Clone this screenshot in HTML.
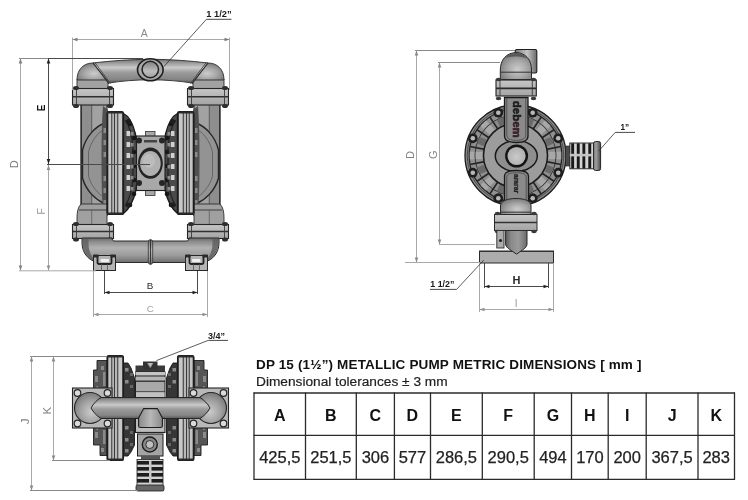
<!DOCTYPE html>
<html><head><meta charset="utf-8"><style>
html,body{margin:0;padding:0;background:#fff;}
body{width:748px;height:500px;overflow:hidden;position:relative;font-family:"Liberation Sans",sans-serif;}
.ttl,.sub,svg{will-change:transform;}
svg{position:absolute;left:0;top:0;}
.tl{stroke:#2b2b2b;stroke-width:1.3;}
.th{font:bold 16px "Liberation Sans",sans-serif;fill:#111;text-anchor:middle;}
.td{font:16.5px "Liberation Sans",sans-serif;fill:#222;text-anchor:middle;stroke:#222;stroke-width:0.25px;}
.ttl{position:absolute;left:256px;top:356.5px;font:bold 13.5px "Liberation Sans",sans-serif;letter-spacing:0.15px;color:#111;white-space:nowrap;}
.sub{position:absolute;left:255.5px;top:373.5px;font:13.7px "Liberation Sans",sans-serif;color:#222;white-space:nowrap;-webkit-text-stroke:0.2px #222;}
</style></head><body>
<svg width="748" height="500" viewBox="0 0 748 500">
<defs>
<linearGradient id="gPipeH" x1="0" y1="0" x2="0" y2="1">
 <stop offset="0" stop-color="#6a6a6a"/><stop offset="0.1" stop-color="#8e8e8e"/><stop offset="0.35" stop-color="#cacaca"/>
 <stop offset="0.55" stop-color="#9c9c9c"/><stop offset="0.85" stop-color="#848484"/><stop offset="1" stop-color="#5a5a5a"/>
</linearGradient>
<linearGradient id="gPipeB" x1="0" y1="0" x2="0" y2="1">
 <stop offset="0" stop-color="#6a6a6a"/><stop offset="0.15" stop-color="#8c8c8c"/><stop offset="0.4" stop-color="#b2b2b2"/>
 <stop offset="0.7" stop-color="#9c9c9c"/><stop offset="1" stop-color="#6e6e6e"/>
</linearGradient>
<linearGradient id="gColV" x1="0" y1="0" x2="1" y2="0">
 <stop offset="0" stop-color="#5a5a5a"/><stop offset="0.25" stop-color="#8a8a8a"/>
 <stop offset="0.6" stop-color="#9a9a9a"/><stop offset="1" stop-color="#6a6a6a"/>
</linearGradient>
<radialGradient id="gDome" cx="0.55" cy="0.62" r="0.62">
 <stop offset="0" stop-color="#cccccc"/><stop offset="0.55" stop-color="#a4a4a4"/><stop offset="1" stop-color="#7a7a7a"/>
</radialGradient>
<radialGradient id="gElbB" cx="0.3" cy="0.2" r="0.9">
 <stop offset="0" stop-color="#b0b0b0"/><stop offset="0.5" stop-color="#8e8e8e"/><stop offset="1" stop-color="#5e5e5e"/>
</radialGradient>
<linearGradient id="gFlange" x1="0" y1="0" x2="0" y2="1">
 <stop offset="0" stop-color="#c6c6c6"/><stop offset="1" stop-color="#a4a4a4"/>
</linearGradient>
<linearGradient id="gOutlet" x1="0" y1="0" x2="1" y2="0">
 <stop offset="0" stop-color="#7a7a7a"/><stop offset="0.55" stop-color="#c4c4c4"/><stop offset="1" stop-color="#6a6a6a"/>
</linearGradient>
<linearGradient id="gPort2" x1="0" y1="0" x2="0" y2="1">
 <stop offset="0" stop-color="#808080"/><stop offset="0.6" stop-color="#bdbdbd"/><stop offset="1" stop-color="#a0a0a0"/>
</linearGradient>
<radialGradient id="gHole" cx="0.5" cy="0.55" r="0.6">
 <stop offset="0" stop-color="#cacaca"/><stop offset="1" stop-color="#a8a8a8"/>
</radialGradient>
<linearGradient id="gCap" x1="0" y1="0" x2="1" y2="0">
 <stop offset="0" stop-color="#8a8a8a"/><stop offset="0.4" stop-color="#9a9a9a"/><stop offset="1" stop-color="#4a4a4a"/>
</linearGradient>
<linearGradient id="gFun" x1="0" y1="0" x2="1" y2="0">
 <stop offset="0" stop-color="#8a8a8a"/><stop offset="0.5" stop-color="#b8b8b8"/><stop offset="1" stop-color="#8a8a8a"/>
</linearGradient>
<radialGradient id="gPort" cx="0.45" cy="0.45" r="0.6">
 <stop offset="0" stop-color="#c8c8c8"/><stop offset="1" stop-color="#8a8a8a"/>
</radialGradient>
</defs>
<rect x="81" y="104" width="26" height="108" fill="#a2a2a2" stroke="#2a2a2a" stroke-width="1.1"/>
<rect x="81.5" y="104" width="10" height="108" fill="#8e8e8e"/>
<line x1="91.7" y1="104" x2="91.7" y2="212" stroke="#4a4a4a" stroke-width="0.8"/>
<line x1="81.3" y1="104" x2="81.3" y2="212" stroke="#2a2a2a" stroke-width="1.2"/>
<path d="M105,123 C96,126 86,136 82.5,150 L82.5,178 C86,191 96,200 105,204 Z" fill="#939393" stroke="#262626" stroke-width="1.4"/>
<path d="M105,129 C98,132 91,141 88.5,152 L88.5,176 C91,186 98,194 105,198" fill="none" stroke="#5a5a5a" stroke-width="0.8"/>
<path d="M103,106 L108,110 L108,216 L103,214 C101,190 101,130 103,106 Z" fill="#505050"/>
<rect x="103.5" y="128" width="2.5" height="5" fill="#8a8a8a"/>
<rect x="103.5" y="140" width="2.5" height="5" fill="#8a8a8a"/>
<rect x="103.5" y="152" width="2.5" height="5" fill="#8a8a8a"/>
<rect x="103.5" y="176" width="2.5" height="5" fill="#8a8a8a"/>
<rect x="103.5" y="188" width="2.5" height="5" fill="#8a8a8a"/>
<rect x="103.5" y="200" width="2.5" height="5" fill="#8a8a8a"/>
<rect x="77" y="79.5" width="31" height="9" fill="#a2a2a2" stroke="#2e2e2e" stroke-width="0.9"/>
<path d="M77,80 C77,69 84,63 93,63 L97,63.5 C103,67 107,73 108,80 Z" fill="url(#gDome)" stroke="#2e2e2e" stroke-width="0.9"/>
<rect x="72.5" y="88.5" width="41" height="16.5" fill="url(#gFlange)" stroke="#262626" stroke-width="1.1"/>
<line x1="72.5" y1="96.75" x2="113.5" y2="96.75" stroke="#303030" stroke-width="1.6"/>
<line x1="76.5" y1="88.5" x2="76.5" y2="105.0" stroke="#3a3a3a" stroke-width="0.9"/>
<line x1="109.5" y1="88.5" x2="109.5" y2="105.0" stroke="#3a3a3a" stroke-width="0.9"/>
<ellipse cx="76.0" cy="88.0" rx="3" ry="2" fill="#2e2e2e"/>
<ellipse cx="110.0" cy="88.0" rx="3" ry="2" fill="#2e2e2e"/>
<ellipse cx="76.0" cy="106.0" rx="3" ry="2" fill="#2e2e2e"/>
<ellipse cx="110.0" cy="106.0" rx="3" ry="2" fill="#2e2e2e"/>
<path d="M81,204 C78,207 77,212 77,218 L77,224.5 L107,224.5 L107,204 Z" fill="#a0a0a0" stroke="#2e2e2e" stroke-width="0.9"/>
<line x1="79" y1="210" x2="107" y2="210" stroke="#333" stroke-width="0.9"/>
<line x1="91.7" y1="210" x2="91.7" y2="224" stroke="#555" stroke-width="0.7"/>
<rect x="72.5" y="224.5" width="41" height="14" fill="url(#gFlange)" stroke="#262626" stroke-width="1.1"/>
<line x1="72.5" y1="231.5" x2="113.5" y2="231.5" stroke="#303030" stroke-width="1.6"/>
<line x1="76.5" y1="224.5" x2="76.5" y2="238.5" stroke="#3a3a3a" stroke-width="0.9"/>
<line x1="109.5" y1="224.5" x2="109.5" y2="238.5" stroke="#3a3a3a" stroke-width="0.9"/>
<ellipse cx="76.0" cy="224.0" rx="3" ry="2" fill="#2e2e2e"/>
<ellipse cx="110.0" cy="224.0" rx="3" ry="2" fill="#2e2e2e"/>
<ellipse cx="76.0" cy="239.5" rx="3" ry="2" fill="#2e2e2e"/>
<ellipse cx="110.0" cy="239.5" rx="3" ry="2" fill="#2e2e2e"/>
<rect x="107" y="111.5" width="16.5" height="103" rx="2" fill="#a0a0a0" stroke="#1a1a1a" stroke-width="1.1"/>
<rect x="107" y="113" width="1.5" height="100" fill="#1e1e1e"/>
<rect x="108.5" y="113" width="2.5" height="100" fill="#c4c4c4"/>
<rect x="111" y="113" width="1.5" height="100" fill="#5a5a5a"/>
<rect x="112.5" y="113" width="1.5" height="100" fill="#b4b4b4"/>
<rect x="114" y="113" width="1" height="100" fill="#3a3a3a"/>
<rect x="115" y="113" width="2" height="100" fill="#b8b8b8"/>
<rect x="117" y="113" width="1.5" height="100" fill="#555"/>
<rect x="118.5" y="113" width="3.8" height="100" fill="#c8c8c8"/>
<rect x="122.3" y="113" width="1.2" height="100" fill="#1e1e1e"/>
<rect x="107" y="111.5" width="16.5" height="2" rx="1" fill="#2a2a2a"/><rect x="107" y="212.5" width="16.5" height="2" rx="1" fill="#2a2a2a"/>
<path d="M123.5,113.5 C129,116 133,124 135.5,134 C137.5,146 138,175 136,190 C133.5,201 129,209 123.5,213.5 Z" fill="#4a4a4a" stroke="#1a1a1a" stroke-width="1.3"/>
<circle cx="130" cy="124" r="2.3" fill="#161616"/>
<circle cx="134" cy="138" r="2.3" fill="#161616"/>
<circle cx="134" cy="152" r="2.3" fill="#161616"/>
<circle cx="134" cy="166" r="2.3" fill="#161616"/>
<circle cx="134" cy="180" r="2.3" fill="#161616"/>
<circle cx="134" cy="194" r="2.3" fill="#161616"/>
<circle cx="130" cy="205" r="2.3" fill="#161616"/>
<path d="M125,120 C129,125 132,135 133,148 L133,178 C132,192 129,200 125,206" fill="none" stroke="#222" stroke-width="1.2"/>
<rect x="126.5" y="131" width="3.5" height="5" fill="#d0d0d0"/>
<rect x="130.5" y="132" width="3" height="3.5" fill="#8a8a8a"/>
<rect x="126.5" y="142" width="3.5" height="5" fill="#d0d0d0"/>
<rect x="130.5" y="143" width="3" height="3.5" fill="#8a8a8a"/>
<rect x="126.5" y="153" width="3.5" height="5" fill="#d0d0d0"/>
<rect x="130.5" y="154" width="3" height="3.5" fill="#8a8a8a"/>
<rect x="126.5" y="164" width="3.5" height="5" fill="#d0d0d0"/>
<rect x="130.5" y="165" width="3" height="3.5" fill="#8a8a8a"/>
<rect x="126.5" y="175" width="3.5" height="5" fill="#d0d0d0"/>
<rect x="130.5" y="176" width="3" height="3.5" fill="#8a8a8a"/>
<rect x="126.5" y="186" width="3.5" height="5" fill="#d0d0d0"/>
<rect x="130.5" y="187" width="3" height="3.5" fill="#8a8a8a"/>
<circle cx="128.5" cy="121.5" r="2.6" fill="#1e1e1e"/><circle cx="128.5" cy="205" r="2.6" fill="#1e1e1e"/>
<g transform="translate(301,0) scale(-1,1)">
<rect x="81" y="104" width="26" height="108" fill="#a2a2a2" stroke="#2a2a2a" stroke-width="1.1"/>
<rect x="81.5" y="104" width="10" height="108" fill="#8e8e8e"/>
<line x1="91.7" y1="104" x2="91.7" y2="212" stroke="#4a4a4a" stroke-width="0.8"/>
<line x1="81.3" y1="104" x2="81.3" y2="212" stroke="#2a2a2a" stroke-width="1.2"/>
<path d="M105,123 C96,126 86,136 82.5,150 L82.5,178 C86,191 96,200 105,204 Z" fill="#939393" stroke="#262626" stroke-width="1.4"/>
<path d="M105,129 C98,132 91,141 88.5,152 L88.5,176 C91,186 98,194 105,198" fill="none" stroke="#5a5a5a" stroke-width="0.8"/>
<path d="M103,106 L108,110 L108,216 L103,214 C101,190 101,130 103,106 Z" fill="#505050"/>
<rect x="103.5" y="128" width="2.5" height="5" fill="#8a8a8a"/>
<rect x="103.5" y="140" width="2.5" height="5" fill="#8a8a8a"/>
<rect x="103.5" y="152" width="2.5" height="5" fill="#8a8a8a"/>
<rect x="103.5" y="176" width="2.5" height="5" fill="#8a8a8a"/>
<rect x="103.5" y="188" width="2.5" height="5" fill="#8a8a8a"/>
<rect x="103.5" y="200" width="2.5" height="5" fill="#8a8a8a"/>
<rect x="77" y="79.5" width="31" height="9" fill="#a2a2a2" stroke="#2e2e2e" stroke-width="0.9"/>
<path d="M77,80 C77,69 84,63 93,63 L97,63.5 C103,67 107,73 108,80 Z" fill="url(#gDome)" stroke="#2e2e2e" stroke-width="0.9"/>
<rect x="72.5" y="88.5" width="41" height="16.5" fill="url(#gFlange)" stroke="#262626" stroke-width="1.1"/>
<line x1="72.5" y1="96.75" x2="113.5" y2="96.75" stroke="#303030" stroke-width="1.6"/>
<line x1="76.5" y1="88.5" x2="76.5" y2="105.0" stroke="#3a3a3a" stroke-width="0.9"/>
<line x1="109.5" y1="88.5" x2="109.5" y2="105.0" stroke="#3a3a3a" stroke-width="0.9"/>
<ellipse cx="76.0" cy="88.0" rx="3" ry="2" fill="#2e2e2e"/>
<ellipse cx="110.0" cy="88.0" rx="3" ry="2" fill="#2e2e2e"/>
<ellipse cx="76.0" cy="106.0" rx="3" ry="2" fill="#2e2e2e"/>
<ellipse cx="110.0" cy="106.0" rx="3" ry="2" fill="#2e2e2e"/>
<path d="M81,204 C78,207 77,212 77,218 L77,224.5 L107,224.5 L107,204 Z" fill="#a0a0a0" stroke="#2e2e2e" stroke-width="0.9"/>
<line x1="79" y1="210" x2="107" y2="210" stroke="#333" stroke-width="0.9"/>
<line x1="91.7" y1="210" x2="91.7" y2="224" stroke="#555" stroke-width="0.7"/>
<rect x="72.5" y="224.5" width="41" height="14" fill="url(#gFlange)" stroke="#262626" stroke-width="1.1"/>
<line x1="72.5" y1="231.5" x2="113.5" y2="231.5" stroke="#303030" stroke-width="1.6"/>
<line x1="76.5" y1="224.5" x2="76.5" y2="238.5" stroke="#3a3a3a" stroke-width="0.9"/>
<line x1="109.5" y1="224.5" x2="109.5" y2="238.5" stroke="#3a3a3a" stroke-width="0.9"/>
<ellipse cx="76.0" cy="224.0" rx="3" ry="2" fill="#2e2e2e"/>
<ellipse cx="110.0" cy="224.0" rx="3" ry="2" fill="#2e2e2e"/>
<ellipse cx="76.0" cy="239.5" rx="3" ry="2" fill="#2e2e2e"/>
<ellipse cx="110.0" cy="239.5" rx="3" ry="2" fill="#2e2e2e"/>
<rect x="107" y="111.5" width="16.5" height="103" rx="2" fill="#a0a0a0" stroke="#1a1a1a" stroke-width="1.1"/>
<rect x="107" y="113" width="1.5" height="100" fill="#1e1e1e"/>
<rect x="108.5" y="113" width="2.5" height="100" fill="#c4c4c4"/>
<rect x="111" y="113" width="1.5" height="100" fill="#5a5a5a"/>
<rect x="112.5" y="113" width="1.5" height="100" fill="#b4b4b4"/>
<rect x="114" y="113" width="1" height="100" fill="#3a3a3a"/>
<rect x="115" y="113" width="2" height="100" fill="#b8b8b8"/>
<rect x="117" y="113" width="1.5" height="100" fill="#555"/>
<rect x="118.5" y="113" width="3.8" height="100" fill="#c8c8c8"/>
<rect x="122.3" y="113" width="1.2" height="100" fill="#1e1e1e"/>
<rect x="107" y="111.5" width="16.5" height="2" rx="1" fill="#2a2a2a"/><rect x="107" y="212.5" width="16.5" height="2" rx="1" fill="#2a2a2a"/>
<path d="M123.5,113.5 C129,116 133,124 135.5,134 C137.5,146 138,175 136,190 C133.5,201 129,209 123.5,213.5 Z" fill="#4a4a4a" stroke="#1a1a1a" stroke-width="1.3"/>
<circle cx="130" cy="124" r="2.3" fill="#161616"/>
<circle cx="134" cy="138" r="2.3" fill="#161616"/>
<circle cx="134" cy="152" r="2.3" fill="#161616"/>
<circle cx="134" cy="166" r="2.3" fill="#161616"/>
<circle cx="134" cy="180" r="2.3" fill="#161616"/>
<circle cx="134" cy="194" r="2.3" fill="#161616"/>
<circle cx="130" cy="205" r="2.3" fill="#161616"/>
<path d="M125,120 C129,125 132,135 133,148 L133,178 C132,192 129,200 125,206" fill="none" stroke="#222" stroke-width="1.2"/>
<rect x="126.5" y="131" width="3.5" height="5" fill="#d0d0d0"/>
<rect x="130.5" y="132" width="3" height="3.5" fill="#8a8a8a"/>
<rect x="126.5" y="142" width="3.5" height="5" fill="#d0d0d0"/>
<rect x="130.5" y="143" width="3" height="3.5" fill="#8a8a8a"/>
<rect x="126.5" y="153" width="3.5" height="5" fill="#d0d0d0"/>
<rect x="130.5" y="154" width="3" height="3.5" fill="#8a8a8a"/>
<rect x="126.5" y="164" width="3.5" height="5" fill="#d0d0d0"/>
<rect x="130.5" y="165" width="3" height="3.5" fill="#8a8a8a"/>
<rect x="126.5" y="175" width="3.5" height="5" fill="#d0d0d0"/>
<rect x="130.5" y="176" width="3" height="3.5" fill="#8a8a8a"/>
<rect x="126.5" y="186" width="3.5" height="5" fill="#d0d0d0"/>
<rect x="130.5" y="187" width="3" height="3.5" fill="#8a8a8a"/>
<circle cx="128.5" cy="121.5" r="2.6" fill="#1e1e1e"/><circle cx="128.5" cy="205" r="2.6" fill="#1e1e1e"/>
</g>
<path d="M93,63 C110,61 130,59.3 150.5,59.3 C171,59.3 191,61 208,63 L192,83 C180,81 165,79.8 150.5,79.8 C136,79.8 121,81 109,83 Z" fill="url(#gPipeH)" stroke="#2e2e2e" stroke-width="0.9"/>
<line x1="93" y1="63" x2="109" y2="84" stroke="#2e2e2e" stroke-width="1"/><line x1="95" y1="62.8" x2="110.5" y2="83.5" stroke="#3a3a3a" stroke-width="0.8"/>
<line x1="208" y1="63" x2="192" y2="84" stroke="#2e2e2e" stroke-width="1"/><line x1="206" y1="62.8" x2="190.5" y2="83.5" stroke="#3a3a3a" stroke-width="0.8"/>
<ellipse cx="150.3" cy="69.8" rx="12.8" ry="11" fill="#a8a8a8" stroke="#1e1e1e" stroke-width="1.6"/>
<circle cx="150.3" cy="69.5" r="8.2" fill="url(#gPort2)" stroke="#222" stroke-width="1.5"/>
<path d="M82,238 L82,243 C82,254 90,262.5 101,262.5 L200,262.5 C211,262.5 219,254 219,243 L219,238 L189,238 C189,240 188,241 186,241 L115,241 C113,241 112,240 112,238 Z" fill="url(#gPipeB)" stroke="#2a2a2a" stroke-width="1"/>
<path d="M82.5,239 L82.5,243 C82.5,252 88,259 96,261.5 C91,257 88.5,250 88.5,243 L88.5,239 Z" fill="#5e5e5e" opacity="0.8"/>
<path d="M218.5,239 L218.5,243 C218.5,252 213,259 205,261.5 C210,257 212.5,250 212.5,243 L212.5,239 Z" fill="#5e5e5e" opacity="0.8"/>
<rect x="148.3" y="239.6" width="4.4" height="24.8" rx="2.2" fill="url(#gPipeB)" stroke="#333" stroke-width="0.8"/>
<line x1="150.5" y1="240" x2="150.5" y2="264" stroke="#2a2a2a" stroke-width="0.9"/>
<rect x="145.5" y="131.5" width="9.5" height="5" fill="#a8a8a8" stroke="#333" stroke-width="0.8"/>
<rect x="145.5" y="190" width="9.5" height="5.5" fill="#a8a8a8" stroke="#333" stroke-width="0.8"/>
<rect x="136.5" y="136" width="28.5" height="54.5" fill="#a8a8a8" stroke="#1e1e1e" stroke-width="1.1"/>
<rect x="144" y="140" width="13" height="2.5" fill="#444"/>
<ellipse cx="150.4" cy="163.2" rx="12.4" ry="15.6" fill="#242424"/>
<ellipse cx="150.4" cy="163.5" rx="10.3" ry="12.5" fill="#b0b0b0"/>
<ellipse cx="149" cy="161" rx="6" ry="7" fill="#bcbcbc"/>
<circle cx="139" cy="140.5" r="3" fill="#262626"/>
<circle cx="162" cy="140.5" r="3" fill="#262626"/>
<circle cx="139" cy="183" r="3" fill="#262626"/>
<circle cx="162" cy="183" r="3" fill="#262626"/><rect x="93.5" y="255.5" width="22" height="15" fill="#b4b4b4" stroke="#262626" stroke-width="1"/>
<path d="M97.5,255.5 L97.5,262.5 C97.5,263.5 98.5,264 99.5,264 L109.5,264 C110.5,264 111.5,263.5 111.5,262.5 L111.5,255.5" fill="none" stroke="#222" stroke-width="1.8"/>
<rect x="100.5" y="259" width="8.5" height="3" rx="1" fill="#f0f0f0"/>
<line x1="101.5" y1="264" x2="101.5" y2="270.5" stroke="#555" stroke-width="0.8"/><line x1="107.5" y1="264" x2="107.5" y2="270.5" stroke="#555" stroke-width="0.8"/>
<rect x="93.5" y="254.5" width="5" height="3" fill="#2a2a2a"/><rect x="110.5" y="254.5" width="5" height="3" fill="#2a2a2a"/>
<g transform="translate(301,0) scale(-1,1)">
<rect x="93.5" y="255.5" width="22" height="15" fill="#b4b4b4" stroke="#262626" stroke-width="1"/>
<path d="M97.5,255.5 L97.5,262.5 C97.5,263.5 98.5,264 99.5,264 L109.5,264 C110.5,264 111.5,263.5 111.5,262.5 L111.5,255.5" fill="none" stroke="#222" stroke-width="1.8"/>
<rect x="100.5" y="259" width="8.5" height="3" rx="1" fill="#f0f0f0"/>
<line x1="101.5" y1="264" x2="101.5" y2="270.5" stroke="#555" stroke-width="0.8"/><line x1="107.5" y1="264" x2="107.5" y2="270.5" stroke="#555" stroke-width="0.8"/>
<rect x="93.5" y="254.5" width="5" height="3" fill="#2a2a2a"/><rect x="110.5" y="254.5" width="5" height="3" fill="#2a2a2a"/>
</g>

<rect x="515.3" y="49.5" width="21.5" height="23.5" rx="1.5" fill="url(#gOutlet)" stroke="#1e1e1e" stroke-width="1.1"/>
<path d="M500.3,79.6 L500.3,70 C500.3,60 506,53 516,52.5 C526,53 531.5,60 531.5,70 L531.5,79.6 Z" fill="url(#gDome)" stroke="#2a2a2a" stroke-width="1"/>
<line x1="500.3" y1="72.2" x2="531.5" y2="72.2" stroke="#333" stroke-width="1"/>
<path d="M505.5,58 C508,54.5 512,53 516,53 C521,53 525,55 527,58.5 C523,57 519,56.5 516,56.5 C512,56.5 508,57 505.5,58 Z" fill="#5a5a5a"/>
<rect x="496" y="80" width="40.3" height="16" fill="url(#gFlange)" stroke="#222" stroke-width="1.1"/>
<line x1="496" y1="88.4" x2="536.3" y2="88.4" stroke="#2a2a2a" stroke-width="1.6"/>
<line x1="500" y1="80" x2="500" y2="96" stroke="#3a3a3a" stroke-width="0.9"/><line x1="532.3" y1="80" x2="532.3" y2="96" stroke="#3a3a3a" stroke-width="0.9"/>
<ellipse cx="498.5" cy="79.5" rx="2.8" ry="1.8" fill="#3a3a3a"/>
<ellipse cx="533.5" cy="79.5" rx="2.8" ry="1.8" fill="#3a3a3a"/>
<ellipse cx="498.5" cy="98.5" rx="2.8" ry="1.8" fill="#3a3a3a"/>
<ellipse cx="533.5" cy="98.5" rx="2.8" ry="1.8" fill="#3a3a3a"/>
<circle cx="515.5" cy="155.5" r="50.5" fill="#8a8a8a" stroke="#1e1e1e" stroke-width="1.3"/>
<circle cx="515.5" cy="155.5" r="48.3" fill="none" stroke="#3a3a3a" stroke-width="0.8"/>
<circle cx="515.5" cy="155.5" r="46.3" fill="#8e8e8e" stroke="#222" stroke-width="1.2"/>
<circle cx="515.5" cy="155.5" r="40.5" fill="none" stroke="#3a3a3a" stroke-width="1"/>
<g transform="rotate(0.0 515.5 155.5)"><rect x="548.5" y="151.9" width="6.8" height="7.2" fill="#a8a8a8"/><rect x="556.8" y="151.7" width="4.4" height="7.6" fill="#a8a8a8"/></g>
<g transform="rotate(11.25 515.5 155.5)"><line x1="547.0" y1="155.5" x2="561.8" y2="155.5" stroke="#262626" stroke-width="1.6"/></g>
<g transform="rotate(22.5 515.5 155.5)"><rect x="548.5" y="151.9" width="6.8" height="7.2" fill="#6a6a6a"/><rect x="556.8" y="151.7" width="4.4" height="7.6" fill="#a8a8a8"/></g>
<g transform="rotate(33.75 515.5 155.5)"><line x1="547.0" y1="155.5" x2="561.8" y2="155.5" stroke="#262626" stroke-width="1.6"/></g>
<g transform="rotate(45.0 515.5 155.5)"><rect x="548.5" y="151.9" width="6.8" height="7.2" fill="#a8a8a8"/><rect x="556.8" y="151.7" width="4.4" height="7.6" fill="#a8a8a8"/></g>
<g transform="rotate(56.25 515.5 155.5)"><line x1="547.0" y1="155.5" x2="561.8" y2="155.5" stroke="#262626" stroke-width="1.6"/></g>
<g transform="rotate(67.5 515.5 155.5)"><rect x="548.5" y="151.9" width="6.8" height="7.2" fill="#6a6a6a"/><rect x="556.8" y="151.7" width="4.4" height="7.6" fill="#a8a8a8"/></g>
<g transform="rotate(78.75 515.5 155.5)"><line x1="547.0" y1="155.5" x2="561.8" y2="155.5" stroke="#262626" stroke-width="1.6"/></g>
<g transform="rotate(90.0 515.5 155.5)"><rect x="548.5" y="151.9" width="6.8" height="7.2" fill="#a8a8a8"/><rect x="556.8" y="151.7" width="4.4" height="7.6" fill="#a8a8a8"/></g>
<g transform="rotate(101.25 515.5 155.5)"><line x1="547.0" y1="155.5" x2="561.8" y2="155.5" stroke="#262626" stroke-width="1.6"/></g>
<g transform="rotate(112.5 515.5 155.5)"><rect x="548.5" y="151.9" width="6.8" height="7.2" fill="#6a6a6a"/><rect x="556.8" y="151.7" width="4.4" height="7.6" fill="#a8a8a8"/></g>
<g transform="rotate(123.75 515.5 155.5)"><line x1="547.0" y1="155.5" x2="561.8" y2="155.5" stroke="#262626" stroke-width="1.6"/></g>
<g transform="rotate(135.0 515.5 155.5)"><rect x="548.5" y="151.9" width="6.8" height="7.2" fill="#a8a8a8"/><rect x="556.8" y="151.7" width="4.4" height="7.6" fill="#a8a8a8"/></g>
<g transform="rotate(146.25 515.5 155.5)"><line x1="547.0" y1="155.5" x2="561.8" y2="155.5" stroke="#262626" stroke-width="1.6"/></g>
<g transform="rotate(157.5 515.5 155.5)"><rect x="548.5" y="151.9" width="6.8" height="7.2" fill="#6a6a6a"/><rect x="556.8" y="151.7" width="4.4" height="7.6" fill="#a8a8a8"/></g>
<g transform="rotate(168.75 515.5 155.5)"><line x1="547.0" y1="155.5" x2="561.8" y2="155.5" stroke="#262626" stroke-width="1.6"/></g>
<g transform="rotate(180.0 515.5 155.5)"><rect x="548.5" y="151.9" width="6.8" height="7.2" fill="#a8a8a8"/><rect x="556.8" y="151.7" width="4.4" height="7.6" fill="#a8a8a8"/></g>
<g transform="rotate(191.25 515.5 155.5)"><line x1="547.0" y1="155.5" x2="561.8" y2="155.5" stroke="#262626" stroke-width="1.6"/></g>
<g transform="rotate(202.5 515.5 155.5)"><rect x="548.5" y="151.9" width="6.8" height="7.2" fill="#6a6a6a"/><rect x="556.8" y="151.7" width="4.4" height="7.6" fill="#a8a8a8"/></g>
<g transform="rotate(213.75 515.5 155.5)"><line x1="547.0" y1="155.5" x2="561.8" y2="155.5" stroke="#262626" stroke-width="1.6"/></g>
<g transform="rotate(225.0 515.5 155.5)"><rect x="548.5" y="151.9" width="6.8" height="7.2" fill="#a8a8a8"/><rect x="556.8" y="151.7" width="4.4" height="7.6" fill="#a8a8a8"/></g>
<g transform="rotate(236.25 515.5 155.5)"><line x1="547.0" y1="155.5" x2="561.8" y2="155.5" stroke="#262626" stroke-width="1.6"/></g>
<g transform="rotate(247.5 515.5 155.5)"><rect x="548.5" y="151.9" width="6.8" height="7.2" fill="#6a6a6a"/><rect x="556.8" y="151.7" width="4.4" height="7.6" fill="#a8a8a8"/></g>
<g transform="rotate(258.75 515.5 155.5)"><line x1="547.0" y1="155.5" x2="561.8" y2="155.5" stroke="#262626" stroke-width="1.6"/></g>
<g transform="rotate(270.0 515.5 155.5)"><rect x="548.5" y="151.9" width="6.8" height="7.2" fill="#a8a8a8"/><rect x="556.8" y="151.7" width="4.4" height="7.6" fill="#a8a8a8"/></g>
<g transform="rotate(281.25 515.5 155.5)"><line x1="547.0" y1="155.5" x2="561.8" y2="155.5" stroke="#262626" stroke-width="1.6"/></g>
<g transform="rotate(292.5 515.5 155.5)"><rect x="548.5" y="151.9" width="6.8" height="7.2" fill="#6a6a6a"/><rect x="556.8" y="151.7" width="4.4" height="7.6" fill="#a8a8a8"/></g>
<g transform="rotate(303.75 515.5 155.5)"><line x1="547.0" y1="155.5" x2="561.8" y2="155.5" stroke="#262626" stroke-width="1.6"/></g>
<g transform="rotate(315.0 515.5 155.5)"><rect x="548.5" y="151.9" width="6.8" height="7.2" fill="#a8a8a8"/><rect x="556.8" y="151.7" width="4.4" height="7.6" fill="#a8a8a8"/></g>
<g transform="rotate(326.25 515.5 155.5)"><line x1="547.0" y1="155.5" x2="561.8" y2="155.5" stroke="#262626" stroke-width="1.6"/></g>
<g transform="rotate(337.5 515.5 155.5)"><rect x="548.5" y="151.9" width="6.8" height="7.2" fill="#6a6a6a"/><rect x="556.8" y="151.7" width="4.4" height="7.6" fill="#a8a8a8"/></g>
<g transform="rotate(348.75 515.5 155.5)"><line x1="547.0" y1="155.5" x2="561.8" y2="155.5" stroke="#262626" stroke-width="1.6"/></g>
<circle cx="515.5" cy="155.5" r="32" fill="#9c9c9c" stroke="#1a1a1a" stroke-width="1.5"/>
<circle cx="498.3" cy="112.8" r="4.9" fill="#1e1e1e"/>
<circle cx="498.3" cy="112.8" r="2.3" fill="#b8b8b8"/>
<circle cx="532.7" cy="112.8" r="4.9" fill="#1e1e1e"/>
<circle cx="532.7" cy="112.8" r="2.3" fill="#b8b8b8"/>
<circle cx="558.2" cy="138.3" r="4.9" fill="#1e1e1e"/>
<circle cx="558.2" cy="138.3" r="2.3" fill="#b8b8b8"/>
<circle cx="558.2" cy="172.7" r="4.9" fill="#1e1e1e"/>
<circle cx="558.2" cy="172.7" r="2.3" fill="#b8b8b8"/>
<circle cx="532.7" cy="198.2" r="4.9" fill="#1e1e1e"/>
<circle cx="532.7" cy="198.2" r="2.3" fill="#b8b8b8"/>
<circle cx="498.3" cy="198.2" r="4.9" fill="#1e1e1e"/>
<circle cx="498.3" cy="198.2" r="2.3" fill="#b8b8b8"/>
<circle cx="472.8" cy="172.7" r="4.9" fill="#1e1e1e"/>
<circle cx="472.8" cy="172.7" r="2.3" fill="#b8b8b8"/>
<circle cx="472.8" cy="138.3" r="4.9" fill="#1e1e1e"/>
<circle cx="472.8" cy="138.3" r="2.3" fill="#b8b8b8"/>
<ellipse cx="516.3" cy="156" rx="21" ry="15.5" fill="#8e8e8e" stroke="#1a1a1a" stroke-width="1.5"/>
<path d="M504.5,97.5 L528,97.5 L528,136 C528,140 524,142.5 516.3,142.5 C508.5,142.5 504.5,140 504.5,136 Z" fill="#8a8a8a" stroke="#1a1a1a" stroke-width="1.3"/>
<path d="M506.8,98 L506.8,135 C506.8,138.5 510,140.3 516.3,140.3 C522.5,140.3 525.8,138.5 525.8,135 L525.8,98" fill="none" stroke="#444" stroke-width="0.8"/>
<path d="M504.5,214 L528.5,214 L528.5,176 C528.5,172.5 524.5,170.5 516.5,170.5 C508.5,170.5 504.5,172.5 504.5,176 Z" fill="#8a8a8a" stroke="#1a1a1a" stroke-width="1.3"/>
<path d="M506.8,214 L506.8,177 C506.8,174 510,172.8 516.5,172.8 C523,172.8 526.2,174 526.2,177 L526.2,214" fill="none" stroke="#444" stroke-width="0.8"/>
<text x="0" y="0" transform="translate(512.6,100.8) rotate(90)" font-family="Liberation Sans" font-weight="bold" font-size="11" textLength="37" lengthAdjust="spacingAndGlyphs" fill="#1e1e1e" stroke="#1e1e1e" stroke-width="0.6">deb<tspan fill="#3a2028" stroke="#3a2028">em</tspan></text>
<text x="0" y="0" transform="translate(514.3,174) rotate(90)" font-family="Liberation Sans" font-weight="bold" font-size="6.5" textLength="19" lengthAdjust="spacingAndGlyphs" fill="#222" stroke="#222" stroke-width="0.3">ararar</text>
<circle cx="516.6" cy="156" r="10.3" fill="url(#gHole)" stroke="#141414" stroke-width="2.4"/>
<path d="M500.5,215.6 L500.5,206 C500.5,201 507,198.5 516,198.5 C525,198.5 531,201 531,206 L531,215.6 Z" fill="url(#gDome)" stroke="#2a2a2a" stroke-width="1"/>
<line x1="500.5" y1="212.2" x2="531" y2="212.2" stroke="#333" stroke-width="1"/>
<rect x="494.5" y="214.5" width="42.5" height="16" fill="url(#gFlange)" stroke="#2a2a2a" stroke-width="1"/>
<line x1="494.5" y1="222.5" x2="537" y2="222.5" stroke="#333" stroke-width="1.5"/>
<ellipse cx="497.5" cy="213.5" rx="2.8" ry="1.8" fill="#3a3a3a"/>
<ellipse cx="534" cy="213.5" rx="2.8" ry="1.8" fill="#3a3a3a"/>
<ellipse cx="497.5" cy="231.5" rx="2.8" ry="1.8" fill="#3a3a3a"/>
<ellipse cx="534" cy="231.5" rx="2.8" ry="1.8" fill="#3a3a3a"/>
<rect x="479.5" y="251" width="74" height="12" fill="#acacac" stroke="#2a2a2a" stroke-width="1"/>
<line x1="479.5" y1="251.5" x2="553.5" y2="251.5" stroke="#333" stroke-width="1.2"/>
<path d="M505.6,230.5 L505.6,244 C505.6,247 509,249 512,251 L516.5,254.2 L521,251 C524,249 527,247 527,244 L527,230.5 Z" fill="url(#gColV)" stroke="#2a2a2a" stroke-width="1"/>
<rect x="496.8" y="230.5" width="7.2" height="17.5" fill="#acacac" stroke="#2a2a2a" stroke-width="0.9"/>
<circle cx="500.5" cy="240.5" r="1.6" fill="#222"/>
<rect x="565.5" y="146" width="5" height="20" fill="#4a4a4a" stroke="#1e1e1e" stroke-width="0.6"/>
<rect x="569.8" y="143" width="24" height="25.8" fill="#d4d4d4" stroke="#1e1e1e" stroke-width="0.9"/>
<rect x="571.2" y="143.3" width="2.9" height="25.2" fill="#1a1a1a"/>
<rect x="576.8" y="143.3" width="2.9" height="25.2" fill="#1a1a1a"/>
<rect x="582.4" y="143.3" width="2.9" height="25.2" fill="#1a1a1a"/>
<rect x="588.3" y="143.3" width="2.9" height="25.2" fill="#1a1a1a"/>
<rect x="569.8" y="153.8" width="24" height="2.6" fill="#c4c4c4"/>
<rect x="593.6" y="141.5" width="7" height="29" rx="2" fill="url(#gCap)" stroke="#1a1a1a" stroke-width="0.9"/>
<path d="M107,360.5 L97,360.5 L97,370 L93.5,370 L93.5,445 L100,445 L100,455.5 L107,455.5 Z" fill="#555" stroke="#1e1e1e" stroke-width="0.9"/>
<rect x="95" y="376" width="3" height="6" fill="#8a8a8a"/>
<rect x="95" y="432" width="3" height="6" fill="#8a8a8a"/>
<rect x="101" y="366" width="3" height="4" fill="#8a8a8a"/>
<rect x="101" y="448" width="3" height="4" fill="#8a8a8a"/>
<rect x="103" y="372" width="2.5" height="14" fill="#8a8a8a"/>
<rect x="103" y="430" width="2.5" height="14" fill="#8a8a8a"/>
<rect x="96.5" y="386" width="1.5" height="44" fill="#8a8a8a"/>
<path d="M123.5,363 L128,363 L131,368 L134.5,378 L134.5,445 L131,452 L128,456 L123.5,456 Z" fill="#363636" stroke="#1a1a1a" stroke-width="0.9"/>
<rect x="125" y="368" width="3.5" height="3.5" fill="#8a8a8a"/>
<rect x="125" y="380" width="3.5" height="3.5" fill="#8a8a8a"/>
<rect x="125" y="426" width="3.5" height="3.5" fill="#8a8a8a"/>
<rect x="125" y="438" width="3.5" height="3.5" fill="#8a8a8a"/>
<rect x="125" y="449" width="3.5" height="3.5" fill="#8a8a8a"/>
<rect x="130" y="373" width="3" height="3" fill="#666"/>
<rect x="130" y="385" width="3" height="3" fill="#666"/>
<rect x="130" y="431" width="3" height="3" fill="#666"/>
<rect x="130" y="443" width="3" height="3" fill="#666"/>
<rect x="107" y="355.5" width="16.5" height="105" rx="2" fill="#a0a0a0" stroke="#1a1a1a" stroke-width="1.1"/>
<rect x="107" y="357" width="1.5" height="102" fill="#1e1e1e"/>
<rect x="108.5" y="357" width="2.5" height="102" fill="#c4c4c4"/>
<rect x="111" y="357" width="1.5" height="102" fill="#5a5a5a"/>
<rect x="112.5" y="357" width="1.5" height="102" fill="#b4b4b4"/>
<rect x="114" y="357" width="1" height="102" fill="#3a3a3a"/>
<rect x="115" y="357" width="2" height="102" fill="#b8b8b8"/>
<rect x="117" y="357" width="1.5" height="102" fill="#555"/>
<rect x="118.5" y="357" width="3.8" height="102" fill="#c8c8c8"/>
<rect x="122.3" y="357" width="1.2" height="102" fill="#1e1e1e"/>
<rect x="107" y="355.5" width="16.5" height="2" rx="1" fill="#2a2a2a"/><rect x="107" y="458.5" width="16.5" height="2" rx="1" fill="#2a2a2a"/>
<rect x="72.5" y="388" width="39.5" height="40" fill="#b8b8b8" stroke="#262626" stroke-width="1.1"/>
<circle cx="77.5" cy="393" r="3.3" fill="#dadada" stroke="#262626" stroke-width="1.2"/>
<circle cx="107.5" cy="393" r="3.3" fill="#dadada" stroke="#262626" stroke-width="1.2"/>
<circle cx="77.5" cy="423.5" r="3.3" fill="#dadada" stroke="#262626" stroke-width="1.2"/>
<circle cx="107.5" cy="423.5" r="3.3" fill="#dadada" stroke="#262626" stroke-width="1.2"/>
<circle cx="90" cy="408" r="15.5" fill="url(#gDome)" stroke="#262626" stroke-width="1.1"/>
<g transform="translate(301,0) scale(-1,1)">
<path d="M107,360.5 L97,360.5 L97,370 L93.5,370 L93.5,445 L100,445 L100,455.5 L107,455.5 Z" fill="#555" stroke="#1e1e1e" stroke-width="0.9"/>
<rect x="95" y="376" width="3" height="6" fill="#8a8a8a"/>
<rect x="95" y="432" width="3" height="6" fill="#8a8a8a"/>
<rect x="101" y="366" width="3" height="4" fill="#8a8a8a"/>
<rect x="101" y="448" width="3" height="4" fill="#8a8a8a"/>
<rect x="103" y="372" width="2.5" height="14" fill="#8a8a8a"/>
<rect x="103" y="430" width="2.5" height="14" fill="#8a8a8a"/>
<rect x="96.5" y="386" width="1.5" height="44" fill="#8a8a8a"/>
<path d="M123.5,363 L128,363 L131,368 L134.5,378 L134.5,445 L131,452 L128,456 L123.5,456 Z" fill="#363636" stroke="#1a1a1a" stroke-width="0.9"/>
<rect x="125" y="368" width="3.5" height="3.5" fill="#8a8a8a"/>
<rect x="125" y="380" width="3.5" height="3.5" fill="#8a8a8a"/>
<rect x="125" y="426" width="3.5" height="3.5" fill="#8a8a8a"/>
<rect x="125" y="438" width="3.5" height="3.5" fill="#8a8a8a"/>
<rect x="125" y="449" width="3.5" height="3.5" fill="#8a8a8a"/>
<rect x="130" y="373" width="3" height="3" fill="#666"/>
<rect x="130" y="385" width="3" height="3" fill="#666"/>
<rect x="130" y="431" width="3" height="3" fill="#666"/>
<rect x="130" y="443" width="3" height="3" fill="#666"/>
<rect x="107" y="355.5" width="16.5" height="105" rx="2" fill="#a0a0a0" stroke="#1a1a1a" stroke-width="1.1"/>
<rect x="107" y="357" width="1.5" height="102" fill="#1e1e1e"/>
<rect x="108.5" y="357" width="2.5" height="102" fill="#c4c4c4"/>
<rect x="111" y="357" width="1.5" height="102" fill="#5a5a5a"/>
<rect x="112.5" y="357" width="1.5" height="102" fill="#b4b4b4"/>
<rect x="114" y="357" width="1" height="102" fill="#3a3a3a"/>
<rect x="115" y="357" width="2" height="102" fill="#b8b8b8"/>
<rect x="117" y="357" width="1.5" height="102" fill="#555"/>
<rect x="118.5" y="357" width="3.8" height="102" fill="#c8c8c8"/>
<rect x="122.3" y="357" width="1.2" height="102" fill="#1e1e1e"/>
<rect x="107" y="355.5" width="16.5" height="2" rx="1" fill="#2a2a2a"/><rect x="107" y="458.5" width="16.5" height="2" rx="1" fill="#2a2a2a"/>
<rect x="72.5" y="388" width="39.5" height="40" fill="#b8b8b8" stroke="#262626" stroke-width="1.1"/>
<circle cx="77.5" cy="393" r="3.3" fill="#dadada" stroke="#262626" stroke-width="1.2"/>
<circle cx="107.5" cy="393" r="3.3" fill="#dadada" stroke="#262626" stroke-width="1.2"/>
<circle cx="77.5" cy="423.5" r="3.3" fill="#dadada" stroke="#262626" stroke-width="1.2"/>
<circle cx="107.5" cy="423.5" r="3.3" fill="#dadada" stroke="#262626" stroke-width="1.2"/>
<circle cx="90" cy="408" r="15.5" fill="url(#gDome)" stroke="#262626" stroke-width="1.1"/>
</g>
<rect x="135.5" y="365.5" width="29.5" height="7" fill="#3a3a3a"/>
<rect x="143" y="361.5" width="14.5" height="8" fill="#333"/>
<path d="M147.5,363 L150.3,367.5 L153,363" fill="#bbb" stroke="#999" stroke-width="0.8"/>
<rect x="135.5" y="372" width="29.5" height="25.5" fill="#a8a8a8" stroke="#1e1e1e" stroke-width="1"/>
<rect x="135.5" y="372" width="29.5" height="3" fill="#c4c4c4"/>
<line x1="135.5" y1="376" x2="165" y2="376" stroke="#333" stroke-width="1"/>
<rect x="135.5" y="377" width="29.5" height="3.5" fill="#b4b4b4"/>
<line x1="135.5" y1="381.2" x2="165" y2="381.2" stroke="#222" stroke-width="1.2"/>
<line x1="135.5" y1="391.8" x2="165" y2="391.8" stroke="#333" stroke-width="1"/>
<rect x="136" y="392.3" width="28.5" height="5" fill="#c0c0c0"/>
<path d="M101,397.5 L200,397.5 C204,400 208,404 210,408 C208,412 204,416 200,418.5 L101,418.5 C97,416 93,412 91,408 C93,404 97,400 101,397.5 Z" fill="url(#gPipeH)" stroke="#262626" stroke-width="1"/>
<rect x="135.5" y="418.5" width="29.5" height="14" fill="#bcbcbc" stroke="#1e1e1e" stroke-width="1"/>
<path d="M143.7,408.6 L157.3,408.6 L162.4,418 L162.4,426 C162.4,427 161.5,427.5 160.5,427.5 L140.5,427.5 C139.5,427.5 138.6,427 138.6,426 L138.6,418 Z" fill="url(#gFun)" stroke="#1e1e1e" stroke-width="1.1"/>
<line x1="135.5" y1="432.5" x2="165" y2="432.5" stroke="#222" stroke-width="1.2"/>
<rect x="137.5" y="434" width="25.5" height="22" fill="#a4a4a4" stroke="#1e1e1e" stroke-width="1"/>
<circle cx="149.8" cy="444.5" r="7.5" fill="#888" stroke="#1e1e1e" stroke-width="1.4"/>
<circle cx="149.8" cy="444.5" r="4" fill="#c0c0c0" stroke="#333" stroke-width="1"/>
<rect x="141" y="456" width="19" height="3.5" fill="#555"/>
<rect x="137" y="459.5" width="26" height="31" fill="#d2d2d2" stroke="#1e1e1e" stroke-width="0.8"/>
<rect x="137" y="461" width="26" height="3.6" fill="#1e1e1e"/>
<rect x="137" y="467" width="26" height="3.6" fill="#1e1e1e"/>
<rect x="137" y="473" width="26" height="3.6" fill="#1e1e1e"/>
<rect x="137" y="479" width="26" height="3.6" fill="#1e1e1e"/>
<rect x="149" y="461" width="2.5" height="24" fill="#c8c8c8"/>
<rect x="136" y="485" width="28" height="6" rx="1.5" fill="#666" stroke="#1e1e1e" stroke-width="0.8"/>
<line x1="72.5" y1="39.5" x2="229.5" y2="39.5" stroke="#a8a8a8" stroke-width="1"/>
<polygon points="72.5,39.5 77.5,37.7 77.5,41.3" fill="#7a7a7a"/>
<polygon points="229.5,39.5 224.5,37.7 224.5,41.3" fill="#7a7a7a"/>
<line x1="72.5" y1="37.5" x2="72.5" y2="90" stroke="#a8a8a8" stroke-width="1"/>
<line x1="229.5" y1="37.5" x2="229.5" y2="90" stroke="#a8a8a8" stroke-width="1"/>
<text x="144.3" y="32.6" font-family="Liberation Sans" font-size="10.5" font-weight="normal" fill="#8a8a8a" text-anchor="middle" dominant-baseline="central">A</text>
<line x1="19" y1="58.5" x2="47.5" y2="58.5" stroke="#888888" stroke-width="1"/>
<line x1="47.5" y1="58.5" x2="143" y2="58.5" stroke="#4a4a4a" stroke-width="1"/>
<line x1="20.5" y1="58.5" x2="20.5" y2="270.5" stroke="#a8a8a8" stroke-width="1"/>
<polygon points="20.5,58.5 18.7,63.5 22.3,63.5" fill="#808080"/>
<polygon points="20.5,270.5 18.7,265.5 22.3,265.5" fill="#808080"/>
<line x1="48.5" y1="58.5" x2="48.5" y2="164.5" stroke="#4a4a4a" stroke-width="1"/>
<polygon points="48.5,58.5 46.7,63.5 50.3,63.5" fill="#222"/>
<polygon points="48.5,164 46.7,159 50.3,159" fill="#222"/>
<line x1="48.5" y1="164.5" x2="48.5" y2="270.5" stroke="#a8a8a8" stroke-width="1"/>
<polygon points="48.5,165 46.7,170 50.3,170" fill="#909090"/>
<polygon points="48.5,270.5 46.7,265.5 50.3,265.5" fill="#909090"/>
<line x1="47" y1="164.5" x2="150" y2="164.5" stroke="#4a4a4a" stroke-width="1"/>
<line x1="19" y1="270.8" x2="96" y2="270.8" stroke="#a8a8a8" stroke-width="1"/>
<text x="14.2" y="164.3" font-family="Liberation Sans" font-size="11" font-weight="normal" fill="#7a7a7a" text-anchor="middle" dominant-baseline="central" transform="rotate(-90 14.2 164.3)">D</text>
<text x="41.4" y="107.9" font-family="Liberation Sans" font-size="10" font-weight="bold" fill="#111" text-anchor="middle" dominant-baseline="central" transform="rotate(-90 41.4 107.9)">E</text>
<text x="41" y="211.2" font-family="Liberation Sans" font-size="10.5" font-weight="normal" fill="#9a9a9a" text-anchor="middle" dominant-baseline="central" transform="rotate(-90 41 211.2)">F</text>
<line x1="104.5" y1="271" x2="104.5" y2="294" stroke="#4a4a4a" stroke-width="1"/>
<line x1="197.5" y1="271" x2="197.5" y2="294" stroke="#4a4a4a" stroke-width="1"/>
<line x1="104.5" y1="292.5" x2="197.5" y2="292.5" stroke="#4a4a4a" stroke-width="1"/>
<polygon points="104.5,292.5 109.5,290.7 109.5,294.3" fill="#222"/>
<polygon points="197.5,292.5 192.5,290.7 192.5,294.3" fill="#222"/>
<text x="150" y="285.6" font-family="Liberation Sans" font-size="9.8" font-weight="normal" fill="#2a2a2a" text-anchor="middle" dominant-baseline="central">B</text>
<line x1="93.5" y1="271" x2="93.5" y2="317" stroke="#a8a8a8" stroke-width="1"/>
<line x1="207.5" y1="271" x2="207.5" y2="317" stroke="#a8a8a8" stroke-width="1"/>
<line x1="93.5" y1="314.5" x2="207.5" y2="314.5" stroke="#a8a8a8" stroke-width="1"/>
<polygon points="93.5,314.5 98.5,312.7 98.5,316.3" fill="#909090"/>
<polygon points="207.5,314.5 202.5,312.7 202.5,316.3" fill="#909090"/>
<text x="150.2" y="308.2" font-family="Liberation Sans" font-size="9.8" font-weight="normal" fill="#a0a0a0" text-anchor="middle" dominant-baseline="central">C</text>
<text x="218.9" y="14.3" font-family="Liberation Sans" font-size="9.3" font-weight="bold" fill="#1a1a1a" text-anchor="middle" dominant-baseline="central">1 1/2&#8221;</text>
<line x1="206.4" y1="19.3" x2="231.5" y2="19.3" stroke="#333" stroke-width="0.9"/>
<line x1="206.4" y1="19.3" x2="163.7" y2="66.8" stroke="#333" stroke-width="0.8"/>
<line x1="415" y1="50.5" x2="515" y2="50.5" stroke="#888888" stroke-width="1"/>
<line x1="416.5" y1="50.5" x2="416.5" y2="262.5" stroke="#a8a8a8" stroke-width="1"/>
<polygon points="416.5,50.5 414.7,55.5 418.3,55.5" fill="#8a8a8a"/>
<polygon points="416.5,262.5 414.7,257.5 418.3,257.5" fill="#8a8a8a"/>
<line x1="438" y1="62.5" x2="500" y2="62.5" stroke="#888888" stroke-width="1"/>
<line x1="439.5" y1="62.5" x2="439.5" y2="244.5" stroke="#a8a8a8" stroke-width="1"/>
<polygon points="439.5,62.5 437.7,67.5 441.3,67.5" fill="#8a8a8a"/>
<polygon points="439.5,244.5 437.7,239.5 441.3,239.5" fill="#8a8a8a"/>
<line x1="439" y1="244.5" x2="495" y2="244.5" stroke="#a8a8a8" stroke-width="1"/>
<line x1="405" y1="262.5" x2="480" y2="262.5" stroke="#a8a8a8" stroke-width="1"/>
<text x="410" y="155" font-family="Liberation Sans" font-size="11" font-weight="normal" fill="#808080" text-anchor="middle" dominant-baseline="central" transform="rotate(-90 410 155)">D</text>
<text x="433.2" y="154.8" font-family="Liberation Sans" font-size="11" font-weight="normal" fill="#808080" text-anchor="middle" dominant-baseline="central" transform="rotate(-90 433.2 154.8)">G</text>
<line x1="484.5" y1="263" x2="484.5" y2="288" stroke="#4a4a4a" stroke-width="1"/>
<line x1="548.5" y1="263" x2="548.5" y2="288" stroke="#4a4a4a" stroke-width="1"/>
<line x1="484.5" y1="286.5" x2="548.5" y2="286.5" stroke="#4a4a4a" stroke-width="1"/>
<polygon points="484.5,286.5 489.5,284.7 489.5,288.3" fill="#222"/>
<polygon points="548.5,286.5 543.5,284.7 543.5,288.3" fill="#222"/>
<text x="516.4" y="280.2" font-family="Liberation Sans" font-size="11" font-weight="bold" fill="#2a2a2a" text-anchor="middle" dominant-baseline="central">H</text>
<line x1="479.5" y1="263" x2="479.5" y2="312" stroke="#a8a8a8" stroke-width="1"/>
<line x1="553.5" y1="263" x2="553.5" y2="312" stroke="#a8a8a8" stroke-width="1"/>
<line x1="479.5" y1="309.5" x2="553.5" y2="309.5" stroke="#a8a8a8" stroke-width="1"/>
<polygon points="479.5,309.5 484.5,307.7 484.5,311.3" fill="#909090"/>
<polygon points="553.5,309.5 548.5,307.7 548.5,311.3" fill="#909090"/>
<text x="516.2" y="303.3" font-family="Liberation Sans" font-size="10" font-weight="normal" fill="#9a9a9a" text-anchor="middle" dominant-baseline="central">I</text>
<text x="442.3" y="284" font-family="Liberation Sans" font-size="8.8" font-weight="bold" fill="#1a1a1a" text-anchor="middle" dominant-baseline="central">1 1/2&#8221;</text>
<line x1="430" y1="289.4" x2="456.6" y2="289.4" stroke="#333" stroke-width="0.9"/>
<line x1="456.6" y1="289.4" x2="483.7" y2="260.2" stroke="#333" stroke-width="0.8"/>
<text x="624.9" y="127.1" font-family="Liberation Sans" font-size="8.2" font-weight="bold" fill="#1a1a1a" text-anchor="middle" dominant-baseline="central">1&#8221;</text>
<line x1="615.2" y1="132.4" x2="635" y2="132.4" stroke="#333" stroke-width="0.9"/>
<line x1="615.2" y1="132.4" x2="598.5" y2="151.3" stroke="#333" stroke-width="0.8"/>
<line x1="30" y1="356.5" x2="107" y2="356.5" stroke="#888888" stroke-width="1"/>
<line x1="31.5" y1="356.5" x2="31.5" y2="490.5" stroke="#a8a8a8" stroke-width="1"/>
<polygon points="31.5,356.5 29.7,361.5 33.3,361.5" fill="#8a8a8a"/>
<polygon points="31.5,490.5 29.7,485.5 33.3,485.5" fill="#8a8a8a"/>
<line x1="53.5" y1="356.5" x2="53.5" y2="460.5" stroke="#a8a8a8" stroke-width="1"/>
<polygon points="53.5,356.5 51.7,361.5 55.3,361.5" fill="#8a8a8a"/>
<polygon points="53.5,460.5 51.7,455.5 55.3,455.5" fill="#8a8a8a"/>
<line x1="52" y1="460.5" x2="110" y2="460.5" stroke="#888888" stroke-width="1"/>
<line x1="30" y1="490.5" x2="138" y2="490.5" stroke="#888888" stroke-width="1"/>
<text x="24.8" y="421.4" font-family="Liberation Sans" font-size="11.5" font-weight="normal" fill="#808080" text-anchor="middle" dominant-baseline="central" transform="rotate(-90 24.8 421.4)">J</text>
<text x="46.8" y="410.6" font-family="Liberation Sans" font-size="11.5" font-weight="normal" fill="#808080" text-anchor="middle" dominant-baseline="central" transform="rotate(-90 46.8 410.6)">K</text>
<text x="216.4" y="335.9" font-family="Liberation Sans" font-size="9" font-weight="bold" fill="#1a1a1a" text-anchor="middle" dominant-baseline="central">3/4&#8221;</text>
<line x1="208.2" y1="340.4" x2="228" y2="340.4" stroke="#333" stroke-width="0.9"/>
<line x1="208.2" y1="340.4" x2="156.4" y2="360.6" stroke="#333" stroke-width="0.8"/>
<line x1="254" y1="392.5" x2="254" y2="479.8" class="tl"/>
<line x1="305.5" y1="392.5" x2="305.5" y2="479.8" class="tl"/>
<line x1="356.3" y1="392.5" x2="356.3" y2="479.8" class="tl"/>
<line x1="394.4" y1="392.5" x2="394.4" y2="479.8" class="tl"/>
<line x1="430.5" y1="392.5" x2="430.5" y2="479.8" class="tl"/>
<line x1="482.3" y1="392.5" x2="482.3" y2="479.8" class="tl"/>
<line x1="534.2" y1="392.5" x2="534.2" y2="479.8" class="tl"/>
<line x1="571.5" y1="392.5" x2="571.5" y2="479.8" class="tl"/>
<line x1="608.2" y1="392.5" x2="608.2" y2="479.8" class="tl"/>
<line x1="646.2" y1="392.5" x2="646.2" y2="479.8" class="tl"/>
<line x1="698" y1="392.5" x2="698" y2="479.8" class="tl"/>
<line x1="734.5" y1="392.5" x2="734.5" y2="479.8" class="tl"/>
<line x1="253.5" y1="393" x2="735.0" y2="393" class="tl"/>
<line x1="253.5" y1="435.3" x2="735.0" y2="435.3" class="tl"/>
<line x1="253.5" y1="479.3" x2="735.0" y2="479.3" class="tl"/>
<text x="279.8" y="420.5" class="th">A</text>
<text x="279.8" y="463" class="td">425,5</text>
<text x="330.9" y="420.5" class="th">B</text>
<text x="330.9" y="463" class="td">251,5</text>
<text x="375.4" y="420.5" class="th">C</text>
<text x="375.4" y="463" class="td">306</text>
<text x="412.4" y="420.5" class="th">D</text>
<text x="412.4" y="463" class="td">577</text>
<text x="456.4" y="420.5" class="th">E</text>
<text x="456.4" y="463" class="td">286,5</text>
<text x="508.2" y="420.5" class="th">F</text>
<text x="508.2" y="463" class="td">290,5</text>
<text x="552.9" y="420.5" class="th">G</text>
<text x="552.9" y="463" class="td">494</text>
<text x="589.9" y="420.5" class="th">H</text>
<text x="589.9" y="463" class="td">170</text>
<text x="627.2" y="420.5" class="th">I</text>
<text x="627.2" y="463" class="td">200</text>
<text x="672.1" y="420.5" class="th">J</text>
<text x="672.1" y="463" class="td">367,5</text>
<text x="716.2" y="420.5" class="th">K</text>
<text x="716.2" y="463" class="td">283</text>
</svg>
<div class="ttl">DP 15 (1&frac12;&rdquo;) METALLIC PUMP METRIC DIMENSIONS [ mm ]</div>
<div class="sub">Dimensional tolerances &plusmn; 3 mm</div>
</body></html>
